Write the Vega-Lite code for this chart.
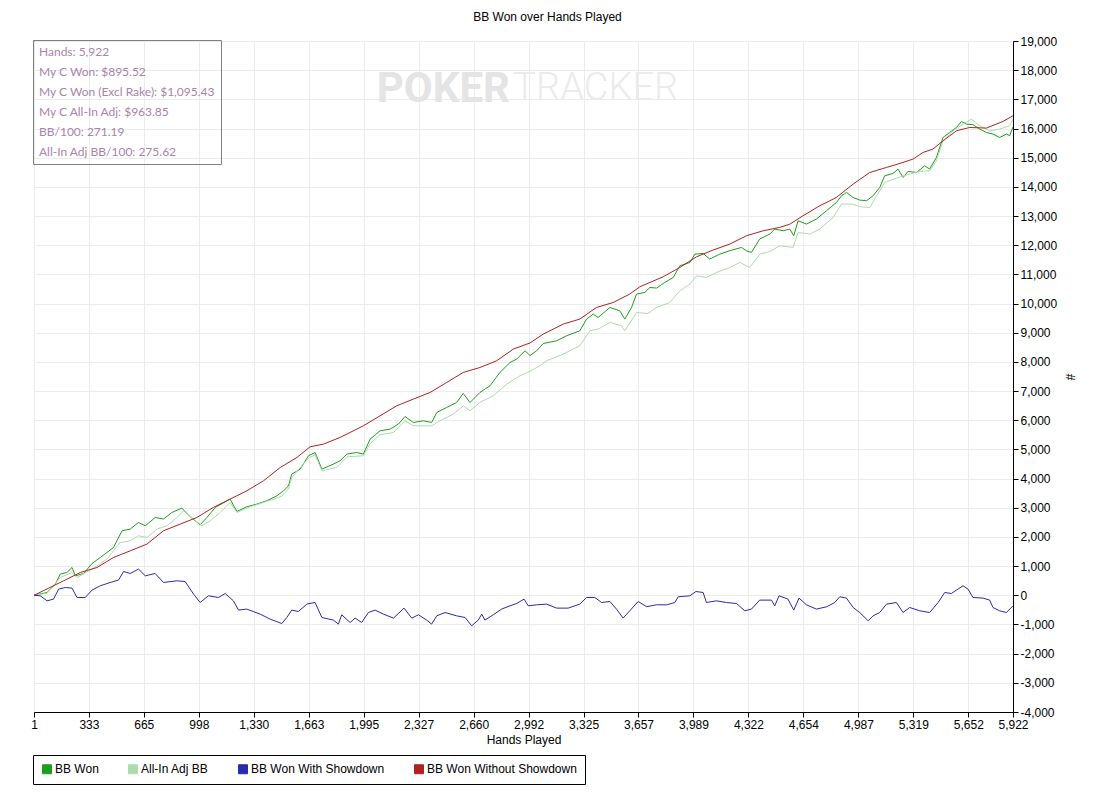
{
  "$schema": "https://vega.github.io/schema/vega-lite/v6.json",
  "width": 979,
  "height": 671,
  "autosize": {"type": "none"},
  "padding": {"left": 34, "top": 41, "right": 94, "bottom": 90},
  "background": "white",
  "title": {"text": "BB Won over Hands Played", "font": "Liberation Sans", "fontSize": 12, "fontWeight": "normal", "color": "black", "frame": "group", "baseline": "bottom", "offset": 13, "dx": 24, "dy": 14},
  "config": {
    "locale": {"number": {"decimal": ".", "thousands": ",", "grouping": [3], "currency": ["$", ""], "minus": "-"}},
    "view": {"stroke": "black", "strokeWidth": 1},
    "font": "Liberation Sans",
    "axis": {"gridColor": "#ECECEC", "gridWidth": 1, "domainColor": "black", "tickColor": "black", "tickSize": 5, "labelFont": "Liberation Sans", "labelFontSize": 12, "labelColor": "black", "titleFont": "Liberation Sans", "titleFontSize": 12, "titleFontWeight": "normal", "titleColor": "black"}
  },
  "datasets": {
    "info": [
      {"t": "Hands: 5,922"},
      {"t": "My C Won: $895.52"},
      {"t": "My C Won (Excl Rake): $1,095.43"},
      {"t": "My C All-In Adj: $963.85"},
      {"t": "BB/100: 271.19"},
      {"t": "All-In Adj BB/100: 275.62"}
    ],
    "mark1": [{"w": "POKER"}],
    "mark2": [{"w": "TRACKER"}],
    "series": [
      {"series":"BB Won","hand":1,"bb":0},{"series":"BB Won","hand":80,"bb":96},{"series":"BB Won","hand":130,"bb":384},{"series":"BB Won","hand":160,"bb":727},{"series":"BB Won","hand":200,"bb":782},{"series":"BB Won","hand":231,"bb":953},{"series":"BB Won","hand":251,"bb":668},{"series":"BB Won","hand":301,"bb":747},{"series":"BB Won","hand":352,"bb":1090},{"series":"BB Won","hand":402,"bb":1296},{"series":"BB Won","hand":482,"bb":1639},{"series":"BB Won","hand":533,"bb":2211},{"series":"BB Won","hand":583,"bb":2269},{"series":"BB Won","hand":633,"bb":2496},{"series":"BB Won","hand":674,"bb":2383},{"series":"BB Won","hand":734,"bb":2667},{"series":"BB Won","hand":784,"bb":2612},{"series":"BB Won","hand":835,"bb":2838},{"series":"BB Won","hand":895,"bb":2989},{"series":"BB Won","hand":946,"bb":2691},{"series":"BB Won","hand":1006,"bb":2417},{"series":"BB Won","hand":1047,"bb":2667},{"series":"BB Won","hand":1097,"bb":3010},{"series":"BB Won","hand":1187,"bb":3298},{"series":"BB Won","hand":1228,"bb":2873},{"series":"BB Won","hand":1288,"bb":3034},{"series":"BB Won","hand":1349,"bb":3126},{"series":"BB Won","hand":1409,"bb":3240},{"series":"BB Won","hand":1470,"bb":3411},{"series":"BB Won","hand":1510,"bb":3582},{"series":"BB Won","hand":1540,"bb":3750},{"series":"BB Won","hand":1560,"bb":4154},{"series":"BB Won","hand":1611,"bb":4326},{"series":"BB Won","hand":1661,"bb":4782},{"series":"BB Won","hand":1701,"bb":4895},{"series":"BB Won","hand":1742,"bb":4326},{"series":"BB Won","hand":1812,"bb":4497},{"series":"BB Won","hand":1852,"bb":4611},{"series":"BB Won","hand":1893,"bb":4840},{"series":"BB Won","hand":1953,"bb":4895},{"series":"BB Won","hand":1993,"bb":4840},{"series":"BB Won","hand":2034,"bb":5354},{"series":"BB Won","hand":2094,"bb":5639},{"series":"BB Won","hand":2155,"bb":5697},{"series":"BB Won","hand":2205,"bb":5869},{"series":"BB Won","hand":2245,"bb":6129},{"series":"BB Won","hand":2295,"bb":5924},{"series":"BB Won","hand":2356,"bb":5982},{"series":"BB Won","hand":2406,"bb":5924},{"series":"BB Won","hand":2437,"bb":6267},{"series":"BB Won","hand":2497,"bb":6438},{"series":"BB Won","hand":2557,"bb":6609},{"series":"BB Won","hand":2597,"bb":6918},{"series":"BB Won","hand":2638,"bb":6609},{"series":"BB Won","hand":2698,"bb":6952},{"series":"BB Won","hand":2759,"bb":7182},{"series":"BB Won","hand":2819,"bb":7638},{"series":"BB Won","hand":2880,"bb":7981},{"series":"BB Won","hand":2920,"bb":8097},{"series":"BB Won","hand":2971,"bb":8381},{"series":"BB Won","hand":3001,"bb":8220},{"series":"BB Won","hand":3041,"bb":8381},{"series":"BB Won","hand":3081,"bb":8632},{"series":"BB Won","hand":3162,"bb":8724},{"series":"BB Won","hand":3222,"bb":8896},{"series":"BB Won","hand":3302,"bb":9067},{"series":"BB Won","hand":3343,"bb":9468},{"series":"BB Won","hand":3383,"bb":9640},{"series":"BB Won","hand":3413,"bb":9524},{"series":"BB Won","hand":3484,"bb":9866},{"series":"BB Won","hand":3544,"bb":9753},{"series":"BB Won","hand":3574,"bb":9468},{"series":"BB Won","hand":3615,"bb":9866},{"series":"BB Won","hand":3645,"bb":10325},{"series":"BB Won","hand":3695,"bb":10380},{"series":"BB Won","hand":3726,"bb":10552},{"series":"BB Won","hand":3766,"bb":10531},{"series":"BB Won","hand":3816,"bb":10723},{"series":"BB Won","hand":3867,"bb":10894},{"series":"BB Won","hand":3907,"bb":11295},{"series":"BB Won","hand":3968,"bb":11409},{"series":"BB Won","hand":3998,"bb":11696},{"series":"BB Won","hand":4048,"bb":11717},{"series":"BB Won","hand":4088,"bb":11525},{"series":"BB Won","hand":4149,"bb":11696},{"series":"BB Won","hand":4209,"bb":11810},{"series":"BB Won","hand":4280,"bb":11923},{"series":"BB Won","hand":4310,"bb":11810},{"series":"BB Won","hand":4340,"bb":11751},{"series":"BB Won","hand":4390,"bb":12211},{"series":"BB Won","hand":4451,"bb":12382},{"series":"BB Won","hand":4481,"bb":12553},{"series":"BB Won","hand":4532,"bb":12495},{"series":"BB Won","hand":4572,"bb":12553},{"series":"BB Won","hand":4596,"bb":12324},{"series":"BB Won","hand":4622,"bb":12838},{"series":"BB Won","hand":4673,"bb":12725},{"series":"BB Won","hand":4733,"bb":12896},{"series":"BB Won","hand":4794,"bb":13181},{"series":"BB Won","hand":4854,"bb":13466},{"series":"BB Won","hand":4885,"bb":13695},{"series":"BB Won","hand":4915,"bb":13808},{"series":"BB Won","hand":4955,"bb":13637},{"series":"BB Won","hand":4995,"bb":13547},{"series":"BB Won","hand":5036,"bb":13524},{"series":"BB Won","hand":5076,"bb":13695},{"series":"BB Won","hand":5116,"bb":13979},{"series":"BB Won","hand":5146,"bb":14380},{"series":"BB Won","hand":5196,"bb":14460},{"series":"BB Won","hand":5227,"bb":14610},{"series":"BB Won","hand":5257,"bb":14322},{"series":"BB Won","hand":5287,"bb":14528},{"series":"BB Won","hand":5338,"bb":14494},{"series":"BB Won","hand":5388,"bb":14723},{"series":"BB Won","hand":5418,"bb":14610},{"series":"BB Won","hand":5459,"bb":15008},{"series":"BB Won","hand":5499,"bb":15694},{"series":"BB Won","hand":5539,"bb":15865},{"series":"BB Won","hand":5580,"bb":16036},{"series":"BB Won","hand":5610,"bb":16242},{"series":"BB Won","hand":5640,"bb":16152},{"series":"BB Won","hand":5680,"bb":16129},{"series":"BB Won","hand":5721,"bb":15981},{"series":"BB Won","hand":5761,"bb":15865},{"series":"BB Won","hand":5801,"bb":15810},{"series":"BB Won","hand":5841,"bb":15694},{"series":"BB Won","hand":5882,"bb":15810},{"series":"BB Won","hand":5902,"bb":15752},{"series":"BB Won","hand":5922,"bb":16060},
      {"series":"All-In Adj BB","hand":1,"bb":0},{"series":"All-In Adj BB","hand":80,"bb":68},{"series":"All-In Adj BB","hand":160,"bb":610},{"series":"All-In Adj BB","hand":231,"bb":782},{"series":"All-In Adj BB","hand":261,"bb":610},{"series":"All-In Adj BB","hand":352,"bb":898},{"series":"All-In Adj BB","hand":442,"bb":1241},{"series":"All-In Adj BB","hand":523,"bb":1810},{"series":"All-In Adj BB","hand":583,"bb":1868},{"series":"All-In Adj BB","hand":633,"bb":2040},{"series":"All-In Adj BB","hand":684,"bb":1981},{"series":"All-In Adj BB","hand":744,"bb":2269},{"series":"All-In Adj BB","hand":805,"bb":2383},{"series":"All-In Adj BB","hand":865,"bb":2667},{"series":"All-In Adj BB","hand":905,"bb":2897},{"series":"All-In Adj BB","hand":966,"bb":2612},{"series":"All-In Adj BB","hand":1016,"bb":2383},{"series":"All-In Adj BB","hand":1067,"bb":2554},{"series":"All-In Adj BB","hand":1127,"bb":2838},{"series":"All-In Adj BB","hand":1187,"bb":3181},{"series":"All-In Adj BB","hand":1228,"bb":2838},{"series":"All-In Adj BB","hand":1308,"bb":3034},{"series":"All-In Adj BB","hand":1389,"bb":3181},{"series":"All-In Adj BB","hand":1470,"bb":3332},{"series":"All-In Adj BB","hand":1500,"bb":3400},{"series":"All-In Adj BB","hand":1540,"bb":3650},{"series":"All-In Adj BB","hand":1560,"bb":4040},{"series":"All-In Adj BB","hand":1661,"bb":4703},{"series":"All-In Adj BB","hand":1701,"bb":4816},{"series":"All-In Adj BB","hand":1742,"bb":4268},{"series":"All-In Adj BB","hand":1832,"bb":4381},{"series":"All-In Adj BB","hand":1893,"bb":4748},{"series":"All-In Adj BB","hand":1993,"bb":4782},{"series":"All-In Adj BB","hand":2034,"bb":5204},{"series":"All-In Adj BB","hand":2094,"bb":5502},{"series":"All-In Adj BB","hand":2175,"bb":5581},{"series":"All-In Adj BB","hand":2245,"bb":5982},{"series":"All-In Adj BB","hand":2295,"bb":5810},{"series":"All-In Adj BB","hand":2406,"bb":5810},{"series":"All-In Adj BB","hand":2457,"bb":5982},{"series":"All-In Adj BB","hand":2537,"bb":6211},{"series":"All-In Adj BB","hand":2597,"bb":6496},{"series":"All-In Adj BB","hand":2638,"bb":6325},{"series":"All-In Adj BB","hand":2698,"bb":6609},{"series":"All-In Adj BB","hand":2779,"bb":6839},{"series":"All-In Adj BB","hand":2860,"bb":7240},{"series":"All-In Adj BB","hand":2940,"bb":7525},{"series":"All-In Adj BB","hand":3001,"bb":7680},{"series":"All-In Adj BB","hand":3061,"bb":7867},{"series":"All-In Adj BB","hand":3101,"bb":8038},{"series":"All-In Adj BB","hand":3202,"bb":8268},{"series":"All-In Adj BB","hand":3302,"bb":8553},{"series":"All-In Adj BB","hand":3363,"bb":9067},{"series":"All-In Adj BB","hand":3413,"bb":9125},{"series":"All-In Adj BB","hand":3484,"bb":9352},{"series":"All-In Adj BB","hand":3554,"bb":9239},{"series":"All-In Adj BB","hand":3574,"bb":9067},{"series":"All-In Adj BB","hand":3645,"bb":9695},{"series":"All-In Adj BB","hand":3715,"bb":9660},{"series":"All-In Adj BB","hand":3766,"bb":9866},{"series":"All-In Adj BB","hand":3847,"bb":10037},{"series":"All-In Adj BB","hand":3907,"bb":10438},{"series":"All-In Adj BB","hand":3968,"bb":10668},{"series":"All-In Adj BB","hand":4008,"bb":10953},{"series":"All-In Adj BB","hand":4068,"bb":10894},{"series":"All-In Adj BB","hand":4129,"bb":11066},{"series":"All-In Adj BB","hand":4209,"bb":11237},{"series":"All-In Adj BB","hand":4270,"bb":11409},{"series":"All-In Adj BB","hand":4330,"bb":11237},{"series":"All-In Adj BB","hand":4390,"bb":11696},{"series":"All-In Adj BB","hand":4451,"bb":11780},{"series":"All-In Adj BB","hand":4511,"bb":11981},{"series":"All-In Adj BB","hand":4592,"bb":11923},{"series":"All-In Adj BB","hand":4622,"bb":12437},{"series":"All-In Adj BB","hand":4693,"bb":12382},{"series":"All-In Adj BB","hand":4753,"bb":12553},{"series":"All-In Adj BB","hand":4834,"bb":12951},{"series":"All-In Adj BB","hand":4885,"bb":13410},{"series":"All-In Adj BB","hand":4945,"bb":13410},{"series":"All-In Adj BB","hand":5005,"bb":13318},{"series":"All-In Adj BB","hand":5056,"bb":13294},{"series":"All-In Adj BB","hand":5116,"bb":13866},{"series":"All-In Adj BB","hand":5146,"bb":14152},{"series":"All-In Adj BB","hand":5217,"bb":14301},{"series":"All-In Adj BB","hand":5297,"bb":14438},{"series":"All-In Adj BB","hand":5358,"bb":14528},{"series":"All-In Adj BB","hand":5418,"bb":14552},{"series":"All-In Adj BB","hand":5459,"bb":14895},{"series":"All-In Adj BB","hand":5499,"bb":15581},{"series":"All-In Adj BB","hand":5559,"bb":15923},{"series":"All-In Adj BB","hand":5620,"bb":16152},{"series":"All-In Adj BB","hand":5670,"bb":16324},{"series":"All-In Adj BB","hand":5721,"bb":16095},{"series":"All-In Adj BB","hand":5781,"bb":15923},{"series":"All-In Adj BB","hand":5841,"bb":15981},{"series":"All-In Adj BB","hand":5902,"bb":16095},{"series":"All-In Adj BB","hand":5922,"bb":16322},
      {"series":"BB Won With Showdown","hand":1,"bb":0},{"series":"BB Won With Showdown","hand":39,"bb":-17},{"series":"BB Won With Showdown","hand":80,"bb":-189},{"series":"BB Won With Showdown","hand":119,"bb":-131},{"series":"BB Won With Showdown","hand":150,"bb":212},{"series":"BB Won With Showdown","hand":190,"bb":267},{"series":"BB Won With Showdown","hand":231,"bb":247},{"series":"BB Won With Showdown","hand":261,"bb":-75},{"series":"BB Won With Showdown","hand":311,"bb":-75},{"series":"BB Won With Showdown","hand":352,"bb":178},{"series":"BB Won With Showdown","hand":402,"bb":326},{"series":"BB Won With Showdown","hand":462,"bb":439},{"series":"BB Won With Showdown","hand":512,"bb":521},{"series":"BB Won With Showdown","hand":543,"bb":816},{"series":"BB Won With Showdown","hand":583,"bb":747},{"series":"BB Won With Showdown","hand":633,"bb":898},{"series":"BB Won With Showdown","hand":674,"bb":668},{"series":"BB Won With Showdown","hand":734,"bb":747},{"series":"BB Won With Showdown","hand":784,"bb":439},{"series":"BB Won With Showdown","hand":865,"bb":497},{"series":"BB Won With Showdown","hand":915,"bb":473},{"series":"BB Won With Showdown","hand":966,"bb":41},{"series":"BB Won With Showdown","hand":1006,"bb":-247},{"series":"BB Won With Showdown","hand":1056,"bb":-17},{"series":"BB Won With Showdown","hand":1117,"bb":-75},{"series":"BB Won With Showdown","hand":1157,"bb":62},{"series":"BB Won With Showdown","hand":1207,"bb":-189},{"series":"BB Won With Showdown","hand":1238,"bb":-507},{"series":"BB Won With Showdown","hand":1288,"bb":-473},{"series":"BB Won With Showdown","hand":1369,"bb":-645},{"series":"BB Won With Showdown","hand":1429,"bb":-816},{"series":"BB Won With Showdown","hand":1500,"bb":-967},{"series":"BB Won With Showdown","hand":1530,"bb":-761},{"series":"BB Won With Showdown","hand":1560,"bb":-507},{"series":"BB Won With Showdown","hand":1600,"bb":-555},{"series":"BB Won With Showdown","hand":1651,"bb":-302},{"series":"BB Won With Showdown","hand":1701,"bb":-247},{"series":"BB Won With Showdown","hand":1742,"bb":-761},{"series":"BB Won With Showdown","hand":1812,"bb":-850},{"series":"BB Won With Showdown","hand":1842,"bb":-987},{"series":"BB Won With Showdown","hand":1862,"bb":-668},{"series":"BB Won With Showdown","hand":1913,"bb":-932},{"series":"BB Won With Showdown","hand":1943,"bb":-782},{"series":"BB Won With Showdown","hand":1983,"bb":-932},{"series":"BB Won With Showdown","hand":2023,"bb":-590},{"series":"BB Won With Showdown","hand":2064,"bb":-507},{"series":"BB Won With Showdown","hand":2114,"bb":-645},{"series":"BB Won With Showdown","hand":2175,"bb":-782},{"series":"BB Won With Showdown","hand":2239,"bb":-439},{"series":"BB Won With Showdown","hand":2286,"bb":-782},{"series":"BB Won With Showdown","hand":2326,"bb":-668},{"series":"BB Won With Showdown","hand":2376,"bb":-850},{"series":"BB Won With Showdown","hand":2406,"bb":-987},{"series":"BB Won With Showdown","hand":2437,"bb":-703},{"series":"BB Won With Showdown","hand":2487,"bb":-590},{"series":"BB Won With Showdown","hand":2557,"bb":-703},{"series":"BB Won With Showdown","hand":2608,"bb":-761},{"series":"BB Won With Showdown","hand":2648,"bb":-1046},{"series":"BB Won With Showdown","hand":2688,"bb":-850},{"series":"BB Won With Showdown","hand":2709,"bb":-645},{"series":"BB Won With Showdown","hand":2728,"bb":-850},{"series":"BB Won With Showdown","hand":2779,"bb":-668},{"series":"BB Won With Showdown","hand":2829,"bb":-473},{"series":"BB Won With Showdown","hand":2880,"bb":-360},{"series":"BB Won With Showdown","hand":2920,"bb":-281},{"series":"BB Won With Showdown","hand":2965,"bb":-130},{"series":"BB Won With Showdown","hand":2990,"bb":-360},{"series":"BB Won With Showdown","hand":3041,"bb":-326},{"series":"BB Won With Showdown","hand":3101,"bb":-302},{"series":"BB Won With Showdown","hand":3162,"bb":-439},{"series":"BB Won With Showdown","hand":3232,"bb":-439},{"series":"BB Won With Showdown","hand":3302,"bb":-302},{"series":"BB Won With Showdown","hand":3343,"bb":-75},{"series":"BB Won With Showdown","hand":3393,"bb":-75},{"series":"BB Won With Showdown","hand":3434,"bb":-247},{"series":"BB Won With Showdown","hand":3484,"bb":-212},{"series":"BB Won With Showdown","hand":3524,"bb":-473},{"series":"BB Won With Showdown","hand":3564,"bb":-782},{"series":"BB Won With Showdown","hand":3604,"bb":-531},{"series":"BB Won With Showdown","hand":3655,"bb":-212},{"series":"BB Won With Showdown","hand":3706,"bb":-390},{"series":"BB Won With Showdown","hand":3766,"bb":-326},{"series":"BB Won With Showdown","hand":3827,"bb":-326},{"series":"BB Won With Showdown","hand":3877,"bb":-247},{"series":"BB Won With Showdown","hand":3897,"bb":-51},{"series":"BB Won With Showdown","hand":3968,"bb":-17},{"series":"BB Won With Showdown","hand":4004,"bb":130},{"series":"BB Won With Showdown","hand":4048,"bb":96},{"series":"BB Won With Showdown","hand":4068,"bb":-247},{"series":"BB Won With Showdown","hand":4129,"bb":-189},{"series":"BB Won With Showdown","hand":4189,"bb":-247},{"series":"BB Won With Showdown","hand":4250,"bb":-281},{"series":"BB Won With Showdown","hand":4300,"bb":-531},{"series":"BB Won With Showdown","hand":4340,"bb":-473},{"series":"BB Won With Showdown","hand":4390,"bb":-165},{"series":"BB Won With Showdown","hand":4461,"bb":-165},{"series":"BB Won With Showdown","hand":4481,"bb":-360},{"series":"BB Won With Showdown","hand":4507,"bb":-17},{"series":"BB Won With Showdown","hand":4561,"bb":-130},{"series":"BB Won With Showdown","hand":4596,"bb":-507},{"series":"BB Won With Showdown","hand":4628,"bb":-96},{"series":"BB Won With Showdown","hand":4673,"bb":-326},{"series":"BB Won With Showdown","hand":4733,"bb":-473},{"series":"BB Won With Showdown","hand":4794,"bb":-394},{"series":"BB Won With Showdown","hand":4844,"bb":-247},{"series":"BB Won With Showdown","hand":4874,"bb":-51},{"series":"BB Won With Showdown","hand":4915,"bb":-96},{"series":"BB Won With Showdown","hand":4955,"bb":-418},{"series":"BB Won With Showdown","hand":4995,"bb":-590},{"series":"BB Won With Showdown","hand":5046,"bb":-874},{"series":"BB Won With Showdown","hand":5076,"bb":-703},{"series":"BB Won With Showdown","hand":5116,"bb":-590},{"series":"BB Won With Showdown","hand":5157,"bb":-302},{"series":"BB Won With Showdown","hand":5217,"bb":-247},{"series":"BB Won With Showdown","hand":5257,"bb":-590},{"series":"BB Won With Showdown","hand":5297,"bb":-418},{"series":"BB Won With Showdown","hand":5358,"bb":-531},{"series":"BB Won With Showdown","hand":5418,"bb":-590},{"series":"BB Won With Showdown","hand":5469,"bb":-247},{"series":"BB Won With Showdown","hand":5509,"bb":96},{"series":"BB Won With Showdown","hand":5549,"bb":62},{"series":"BB Won With Showdown","hand":5580,"bb":178},{"series":"BB Won With Showdown","hand":5620,"bb":326},{"series":"BB Won With Showdown","hand":5650,"bb":212},{"series":"BB Won With Showdown","hand":5680,"bb":-75},{"series":"BB Won With Showdown","hand":5741,"bb":-96},{"series":"BB Won With Showdown","hand":5781,"bb":-165},{"series":"BB Won With Showdown","hand":5801,"bb":-418},{"series":"BB Won With Showdown","hand":5841,"bb":-531},{"series":"BB Won With Showdown","hand":5882,"bb":-590},{"series":"BB Won With Showdown","hand":5922,"bb":-360},
      {"series":"BB Won Without Showdown","hand":1,"bb":0},{"series":"BB Won Without Showdown","hand":180,"bb":497},{"series":"BB Won Without Showdown","hand":281,"bb":782},{"series":"BB Won Without Showdown","hand":382,"bb":953},{"series":"BB Won Without Showdown","hand":482,"bb":1296},{"series":"BB Won Without Showdown","hand":583,"bb":1525},{"series":"BB Won Without Showdown","hand":684,"bb":1755},{"series":"BB Won Without Showdown","hand":784,"bb":2211},{"series":"BB Won Without Showdown","hand":885,"bb":2440},{"series":"BB Won Without Showdown","hand":986,"bb":2667},{"series":"BB Won Without Showdown","hand":1085,"bb":3010},{"series":"BB Won Without Showdown","hand":1187,"bb":3298},{"series":"BB Won Without Showdown","hand":1288,"bb":3582},{"series":"BB Won Without Showdown","hand":1389,"bb":3925},{"series":"BB Won Without Showdown","hand":1490,"bb":4380},{"series":"BB Won Without Showdown","hand":1591,"bb":4724},{"series":"BB Won Without Showdown","hand":1671,"bb":5090},{"series":"BB Won Without Showdown","hand":1751,"bb":5182},{"series":"BB Won Without Showdown","hand":1852,"bb":5410},{"series":"BB Won Without Showdown","hand":1993,"bb":5810},{"series":"BB Won Without Showdown","hand":2094,"bb":6153},{"series":"BB Won Without Showdown","hand":2195,"bb":6496},{"series":"BB Won Without Showdown","hand":2295,"bb":6725},{"series":"BB Won Without Showdown","hand":2396,"bb":6952},{"series":"BB Won Without Showdown","hand":2497,"bb":7295},{"series":"BB Won Without Showdown","hand":2597,"bb":7638},{"series":"BB Won Without Showdown","hand":2698,"bb":7809},{"series":"BB Won Without Showdown","hand":2799,"bb":8038},{"series":"BB Won Without Showdown","hand":2900,"bb":8440},{"series":"BB Won Without Showdown","hand":3001,"bb":8650},{"series":"BB Won Without Showdown","hand":3081,"bb":8954},{"series":"BB Won Without Showdown","hand":3202,"bb":9297},{"series":"BB Won Without Showdown","hand":3302,"bb":9468},{"series":"BB Won Without Showdown","hand":3403,"bb":9866},{"series":"BB Won Without Showdown","hand":3504,"bb":10037},{"series":"BB Won Without Showdown","hand":3604,"bb":10325},{"series":"BB Won Without Showdown","hand":3665,"bb":10575},{"series":"BB Won Without Showdown","hand":3806,"bb":10918},{"series":"BB Won Without Showdown","hand":3907,"bb":11237},{"series":"BB Won Without Showdown","hand":4008,"bb":11604},{"series":"BB Won Without Showdown","hand":4108,"bb":11834},{"series":"BB Won Without Showdown","hand":4209,"bb":12039},{"series":"BB Won Without Showdown","hand":4310,"bb":12324},{"series":"BB Won Without Showdown","hand":4411,"bb":12495},{"series":"BB Won Without Showdown","hand":4511,"bb":12610},{"series":"BB Won Without Showdown","hand":4572,"bb":12720},{"series":"BB Won Without Showdown","hand":4652,"bb":13010},{"series":"BB Won Without Showdown","hand":4753,"bb":13352},{"series":"BB Won Without Showdown","hand":4854,"bb":13637},{"series":"BB Won Without Showdown","hand":4955,"bb":14095},{"series":"BB Won Without Showdown","hand":5056,"bb":14494},{"series":"BB Won Without Showdown","hand":5157,"bb":14666},{"series":"BB Won Without Showdown","hand":5257,"bb":14837},{"series":"BB Won Without Showdown","hand":5317,"bb":14952},{"series":"BB Won Without Showdown","hand":5378,"bb":15180},{"series":"BB Won Without Showdown","hand":5438,"bb":15295},{"series":"BB Won Without Showdown","hand":5499,"bb":15581},{"series":"BB Won Without Showdown","hand":5580,"bb":15923},{"series":"BB Won Without Showdown","hand":5660,"bb":16036},{"series":"BB Won Without Showdown","hand":5761,"bb":16015},{"series":"BB Won Without Showdown","hand":5861,"bb":16242},{"series":"BB Won Without Showdown","hand":5922,"bb":16437}
    ]
  },
  "layer": [
    {
      "data": {"name": "mark1"},
      "mark": {"type": "text", "align": "right", "baseline": "middle", "font": "Roboto", "fontSize": 42, "fontWeight": "bold", "color": "#E4E4E4"},
      "encoding": {"text": {"field": "w"},
        "x": {"datum": 2880, "type": "quantitative", "scale": {"domain": [1, 5922], "nice": false, "zero": false},
          "axis": {"title": "Hands Played", "values": [1,333,665,998,1330,1663,1995,2327,2660,2992,3325,3657,3989,4322,4654,4987,5319,5652,5922], "format": ",d", "grid": true, "labelFlush": false, "labelOverlap": false, "labelPadding": 2, "titlePadding": 4}},
        "y": {"datum": 17363, "type": "quantitative", "scale": {"domain": [-4000, 19000], "nice": false, "zero": false},
          "axis": {"orient": "right", "title": "#", "titleAngle": 90, "titlePadding": 6, "tickCount": 23, "tickMinStep": 1000, "format": ",d", "grid": true, "labelPadding": 2, "labelOverlap": false, "labelFlush": false}}}
    },
    {
      "data": {"name": "mark2"},
      "mark": {"type": "text", "align": "left", "baseline": "middle", "font": "Roboto", "fontSize": 38, "fontWeight": 300, "color": "#EBEBEB"},
      "encoding": {"text": {"field": "w"}, "x": {"datum": 2900, "type": "quantitative"}, "y": {"datum": 17363, "type": "quantitative"}}
    },
    {
      "mark": {"type": "rule", "color": "black", "strokeWidth": 1},
      "encoding": {"y": {"datum": 0, "type": "quantitative"}}
    },
    {
      "data": {"name": "series"},
      "mark": {"type": "line", "strokeWidth": 1, "clip": true},
      "encoding": {
        "x": {"field": "hand", "type": "quantitative"},
        "y": {"field": "bb", "type": "quantitative"},
        "color": {"field": "series", "type": "nominal",
          "scale": {"domain": ["BB Won", "All-In Adj BB", "BB Won With Showdown", "BB Won Without Showdown"], "range": ["#1E9E1E", "#ACDCAC", "#2A2AAE", "#B02222"]},
          "legend": {"orient": "none", "legendX": -1, "legendY": 714, "direction": "horizontal", "title": null, "strokeColor": "black", "padding": 8, "symbolType": "square", "symbolSize": 81, "symbolStrokeColor": "black", "symbolStrokeWidth": 1, "labelFont": "Liberation Sans", "labelFontSize": 12, "labelColor": "black", "labelOffset": 2, "columnPadding": 27, "labelLimit": 300,
            "encode": {"symbols": {"update": {"fill": {"scale": "color", "field": "value"}, "fillOpacity": {"value": 1}, "stroke": {"value": "black"}, "strokeWidth": {"value": 1}}}}}
        }
      }
    },
    {
      "data": {"name": "info"},
      "mark": {"type": "point", "opacity": 0},
      "encoding": {
        "shape": {"field": "t", "type": "nominal",
          "scale": {"domain": ["Hands: 5,922", "My C Won: $895.52", "My C Won (Excl Rake): $1,095.43", "My C All-In Adj: $963.85", "BB/100: 271.19", "All-In Adj BB/100: 275.62"]},
          "legend": {"orient": "none", "legendX": -1, "legendY": -1, "direction": "vertical", "title": null, "strokeColor": "#808080", "padding": 6, "symbolSize": 4, "symbolOpacity": 0, "symbolStrokeWidth": 0, "labelOffset": -12, "labelFont": "Lato", "labelFontSize": 12, "labelColor": "#A883AC", "rowPadding": 8, "labelLimit": 400,
            "encode": {"legend": {"update": {"strokeWidth": {"value": 1.5}}}}}
        }
      }
    }
  ]
}
